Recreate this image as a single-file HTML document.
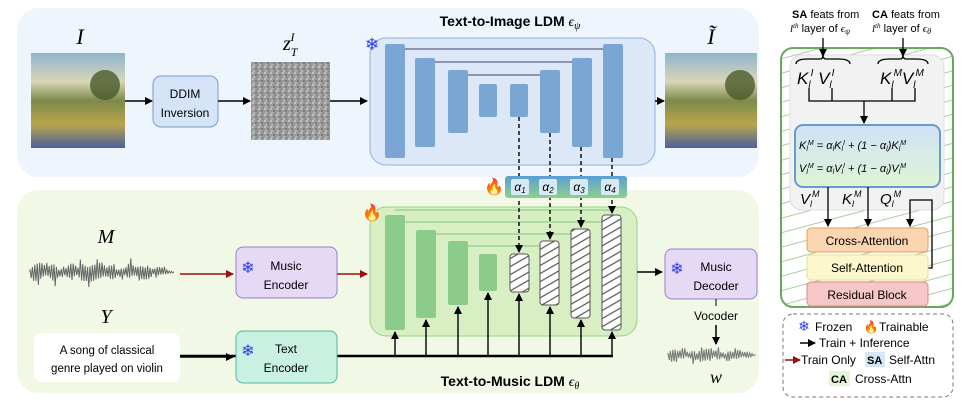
<!DOCTYPE html>
<html><head><meta charset="utf-8"><style>
html,body{margin:0;padding:0;background:#fff;width:969px;height:401px;overflow:hidden}
svg{display:block}
text{font-family:"Comic Sans MS","Liberation Sans",sans-serif}
.m{font-family:"Liberation Serif",serif;font-style:italic}
</style></head><body>
<svg width="969" height="401" viewBox="0 0 969 401" xmlns="http://www.w3.org/2000/svg">
<defs>
<marker id="ah" markerWidth="8" markerHeight="8" refX="7" refY="4" orient="auto" markerUnits="userSpaceOnUse"><path d="M0,0 L8,4 L0,8z" fill="#000"/></marker>
<marker id="ahr" markerWidth="8" markerHeight="8" refX="7" refY="4" orient="auto" markerUnits="userSpaceOnUse"><path d="M0,0 L8,4 L0,8z" fill="#9b1010"/></marker>
<pattern id="hatch" width="7" height="7" patternUnits="userSpaceOnUse" patternTransform="rotate(-30)"><rect width="7" height="7" fill="#fff"/><line x1="0" y1="3" x2="7" y2="3" stroke="#555" stroke-width="1.2"/></pattern>
<pattern id="hatch2" width="14" height="14" patternUnits="userSpaceOnUse" patternTransform="rotate(-15)"><rect width="14" height="14" fill="#fff"/><line x1="0" y1="7" x2="14" y2="7" stroke="#a9cfa0" stroke-width="1"/></pattern>
<linearGradient id="alg" x1="0" y1="0" x2="0" y2="1"><stop offset="0" stop-color="#5a9fd6"/><stop offset="1" stop-color="#8fcf8a"/></linearGradient>
<linearGradient id="fg" x1="0" y1="0" x2="0" y2="1"><stop offset="0" stop-color="#cfe2f7"/><stop offset="1" stop-color="#dff5d4"/></linearGradient>
<linearGradient id="sky" x1="0" y1="0" x2="0" y2="1"><stop offset="0" stop-color="#8fb3cf"/><stop offset="0.3" stop-color="#d9d6b8"/><stop offset="0.5" stop-color="#7c8a4a"/><stop offset="0.75" stop-color="#b9a54a"/><stop offset="1" stop-color="#4c5fa0"/></linearGradient>
<pattern id="noise" width="6" height="6" patternUnits="userSpaceOnUse"><rect width="6" height="6" fill="#9a9a9a"/><rect x="0" y="0" width="2" height="2" fill="#c0c0c0"/><rect x="3" y="2" width="2" height="2" fill="#7e7e7e"/><rect x="1" y="4" width="2" height="2" fill="#b4b4b4"/><rect x="4" y="5" width="2" height="1" fill="#858585"/></pattern>
</defs>

<rect x="17" y="8" width="742" height="169" rx="22" fill="#eef5fd"/>
<rect x="17" y="190" width="742" height="203" rx="22" fill="#f1f9e6"/>

<text x="80" y="44" class="m" font-size="22" text-anchor="middle">I</text>
<rect x="31" y="53" width="94" height="95" fill="url(#sky)"/>
<circle cx="105" cy="85" r="15" fill="#4a5a2a" opacity="0.8"/>
<line x1="125" y1="101" x2="152" y2="101" stroke="#000" stroke-width="1.5" marker-end="url(#ah)"/>
<rect x="153" y="76" width="65" height="51" rx="8" fill="#d5e4f7" stroke="#7b9cc8"/>
<text x="185" y="98" font-size="12" text-anchor="middle">DDIM</text>
<text x="185" y="117" font-size="12" text-anchor="middle">Inversion</text>
<line x1="218" y1="101" x2="250" y2="101" stroke="#000" stroke-width="1.5" marker-end="url(#ah)"/>
<text x="283" y="50" class="m" font-size="20">z<tspan font-size="12" dy="6">T</tspan><tspan font-size="12" dx="-7" dy="-15">I</tspan></text>
<rect x="251" y="62" width="79" height="78" fill="url(#noise)"/>
<line x1="330" y1="101" x2="367" y2="101" stroke="#000" stroke-width="1.5" marker-end="url(#ah)"/>

<text x="510" y="26" font-size="14" font-weight="bold" text-anchor="middle">Text-to-Image LDM <tspan class="m" font-weight="normal">ϵ<tspan font-size="10" dy="3">ψ</tspan></tspan></text>
<rect x="370" y="38" width="285" height="127" rx="16" fill="#dce8f8" stroke="#8fb0dc"/>
<g stroke="#3e3e6e" stroke-width="1" fill="none">
<path d="M395,49 H613"/><path d="M425,62 H582"/><path d="M458,75 H550"/>
</g>
<g fill="#7aa6d4">
<rect x="385" y="44" width="20" height="114" rx="2"/><rect x="415" y="58" width="20" height="89" rx="2"/>
<rect x="448" y="70" width="20" height="63" rx="2"/><rect x="479" y="84" width="18" height="33" rx="2"/>
<rect x="510" y="84" width="18" height="33" rx="2"/><rect x="540" y="70" width="20" height="63" rx="2"/>
<rect x="572" y="58" width="20" height="89" rx="2"/><rect x="603" y="44" width="20" height="114" rx="2"/>
</g>
<text x="372" y="50" font-size="17" fill="#2a3ee8" text-anchor="middle">❄</text>
<line x1="655" y1="101" x2="664" y2="101" stroke="#000" stroke-width="1.5" marker-end="url(#ah)"/>
<text x="711" y="44" class="m" font-size="22" text-anchor="middle">Ĩ</text>
<rect x="665" y="53" width="92" height="95" fill="url(#sky)"/>
<circle cx="740" cy="85" r="15" fill="#4a5a2a" opacity="0.8"/>

<rect x="370" y="207" width="267" height="129" rx="16" fill="#d8efc4" stroke="#9dd08a"/>
<g stroke="#7cc47a" stroke-width="1" fill="none">
<path d="M395,210 H612"/><path d="M395,222 H612"/><path d="M426,234 H581"/><path d="M458,246 H550"/>
</g>
<g fill="#8ccc8a">
<rect x="385" y="215" width="20" height="115" rx="2"/><rect x="416" y="230" width="20" height="88" rx="2"/>
<rect x="448" y="241" width="20" height="64" rx="2"/><rect x="479" y="254" width="18" height="37" rx="2"/>
</g>
<g fill="url(#hatch)" stroke="#555">
<rect x="510" y="254" width="19" height="38" rx="3"/><rect x="540" y="241" width="19" height="64" rx="3"/>
<rect x="571" y="229" width="19" height="89" rx="3"/><rect x="602" y="215" width="19" height="115" rx="3"/>
</g>
<text x="372" y="218" font-size="16" text-anchor="middle" fill="#f08a20">🔥</text>
<g stroke="#000" stroke-width="1.4" stroke-dasharray="4,3" fill="none">
<line x1="519" y1="117" x2="519" y2="252" marker-end="url(#ah)"/>
<line x1="550" y1="133" x2="550" y2="239" marker-end="url(#ah)"/>
<line x1="581" y1="147" x2="581" y2="227" marker-end="url(#ah)"/>
<line x1="612" y1="158" x2="612" y2="213" marker-end="url(#ah)"/>
</g>

<rect x="505" y="176" width="122" height="22" rx="3" fill="url(#alg)"/>
<g font-size="12" text-anchor="middle" class="m">
<rect x="511" y="179" width="18" height="16" rx="2" fill="#d6e9f5"/><text x="520" y="191">α<tspan font-size="8" dy="2">1</tspan></text>
<rect x="539" y="179" width="18" height="16" rx="2" fill="#d6e9f5"/><text x="548" y="191">α<tspan font-size="8" dy="2">2</tspan></text>
<rect x="570" y="179" width="18" height="16" rx="2" fill="#d6e9f5"/><text x="579" y="191">α<tspan font-size="8" dy="2">3</tspan></text>
<rect x="601" y="179" width="18" height="16" rx="2" fill="#d6e9f5"/><text x="610" y="191">α<tspan font-size="8" dy="2">4</tspan></text>
</g>
<text x="494" y="192" font-size="16" text-anchor="middle" fill="#f08a20">🔥</text>

<line x1="180" y1="356" x2="613" y2="356" stroke="#000" stroke-width="2.5"/>
<g stroke="#000" stroke-width="1.4">
<line x1="395" y1="356" x2="395" y2="332" marker-end="url(#ah)"/><line x1="426" y1="356" x2="426" y2="320" marker-end="url(#ah)"/>
<line x1="458" y1="356" x2="458" y2="307" marker-end="url(#ah)"/><line x1="488" y1="356" x2="488" y2="293" marker-end="url(#ah)"/>
<line x1="519" y1="356" x2="519" y2="294" marker-end="url(#ah)"/><line x1="550" y1="356" x2="550" y2="307" marker-end="url(#ah)"/>
<line x1="581" y1="356" x2="581" y2="320" marker-end="url(#ah)"/><line x1="612" y1="356" x2="612" y2="332" marker-end="url(#ah)"/>
</g>
<text x="510" y="386" font-size="14" font-weight="bold" text-anchor="middle">Text-to-Music LDM <tspan class="m" font-weight="normal">ϵ<tspan font-size="10" dy="3">θ</tspan></tspan></text>

<text x="106" y="243" class="m" font-size="20" text-anchor="middle">M</text>
<path id="wave1" d="" stroke="#666" fill="none" stroke-width="1"/>
<line x1="180" y1="274" x2="233" y2="274" stroke="#9b1010" stroke-width="1.5" marker-end="url(#ahr)"/>
<rect x="236" y="247" width="101" height="51" rx="7" fill="#e6d9f6" stroke="#9a7fcc"/>
<text x="248" y="273" font-size="16" fill="#2a3ee8" text-anchor="middle">❄</text>
<text x="286" y="270" font-size="12" text-anchor="middle">Music</text>
<text x="286" y="289" font-size="12" text-anchor="middle">Encoder</text>
<line x1="337" y1="274" x2="367" y2="274" stroke="#9b1010" stroke-width="1.5" marker-end="url(#ahr)"/>
<text x="106" y="323" class="m" font-size="20" text-anchor="middle">Y</text>
<rect x="34" y="333" width="146" height="49" rx="8" fill="#fff"/>
<text x="107" y="354" font-size="11.5" text-anchor="middle">A song of classical</text>
<text x="107" y="372" font-size="11.5" text-anchor="middle">genre played on violin</text>
<line x1="180" y1="357" x2="233" y2="357" stroke="#000" stroke-width="1.5" marker-end="url(#ah)"/>
<rect x="236" y="331" width="101" height="52" rx="7" fill="#c9f0e0" stroke="#55b89a"/>
<text x="248" y="356" font-size="16" fill="#2a3ee8" text-anchor="middle">❄</text>
<text x="286" y="353" font-size="12" text-anchor="middle">Text</text>
<text x="286" y="372" font-size="12" text-anchor="middle">Encoder</text>

<line x1="637" y1="272" x2="662" y2="272" stroke="#000" stroke-width="1.5" marker-end="url(#ah)"/>
<rect x="665" y="249" width="92" height="50" rx="7" fill="#e6d9f6" stroke="#9a7fcc"/>
<text x="677" y="274" font-size="16" fill="#2a3ee8" text-anchor="middle">❄</text>
<text x="716" y="271" font-size="12" text-anchor="middle">Music</text>
<text x="716" y="290" font-size="12" text-anchor="middle">Decoder</text>
<line x1="716" y1="299" x2="716" y2="306" stroke="#000"/>
<text x="716" y="320" font-size="12" text-anchor="middle">Vocoder</text>
<line x1="716" y1="325" x2="716" y2="344" stroke="#000" stroke-width="1.5" marker-end="url(#ah)"/>
<path id="wave2" d="" stroke="#777" fill="none" stroke-width="1"/>
<text x="716" y="383" class="m" font-size="18" text-anchor="middle">w</text>

<text x="792" y="18" font-size="11"><tspan font-weight="bold">SA</tspan> feats from</text>
<text x="790" y="32" font-size="11"><tspan class="m">l<tspan font-size="7" dy="-4">th</tspan></tspan><tspan dy="4"> layer of </tspan><tspan class="m">ϵ<tspan font-size="8" dy="2">ψ</tspan></tspan></text>
<text x="872" y="18" font-size="11"><tspan font-weight="bold">CA</tspan> feats from</text>
<text x="872" y="32" font-size="11"><tspan class="m">l<tspan font-size="7" dy="-4">th</tspan></tspan><tspan dy="4"> layer of </tspan><tspan class="m">ϵ<tspan font-size="8" dy="2">θ</tspan></tspan></text>
<rect x="781" y="48" width="172" height="259" rx="12" fill="url(#hatch2)" stroke="#6aa860" stroke-width="2"/>
<rect x="790" y="55" width="154" height="155" rx="12" fill="#f2f2f2" stroke="#ddd"/>
<g stroke="#000" stroke-width="1.3" fill="none">
<line x1="823" y1="38" x2="823" y2="56" marker-end="url(#ah)"/><line x1="903" y1="38" x2="903" y2="56" marker-end="url(#ah)"/>
<path d="M796,64 q0,-5 12,-5 h12 q3,0 3,-4 q0,4 3,4 h12 q12,0 12,5"/>
<path d="M878,64 q0,-5 12,-5 h10 q3,0 3,-4 q0,4 3,4 h10 q12,0 12,5"/>
<path d="M809,88 V101 H915 V88 M832,88 V101 M892,88 V101"/>
<line x1="864" y1="101" x2="864" y2="123" marker-end="url(#ah)"/>
</g>
<g class="m" font-size="17">
<text x="797" y="84">K<tspan font-size="10" dy="4">l</tspan><tspan font-size="10" dy="-12">I</tspan><tspan dy="8"> V</tspan><tspan font-size="10" dy="4">l</tspan><tspan font-size="10" dy="-12">I</tspan></text>
<text x="880" y="84">K<tspan font-size="10" dy="4">l</tspan><tspan font-size="10" dy="-12">M</tspan><tspan dy="8">V</tspan><tspan font-size="10" dy="4">l</tspan><tspan font-size="10" dy="-12">M</tspan></text>
</g>
<rect x="795" y="125" width="145" height="62" rx="8" fill="url(#fg)" stroke="#6a9bd0" stroke-width="2"/>
<g class="m" font-size="11">
<text x="799" y="149">K<tspan font-size="7" dy="2">l</tspan><tspan font-size="7" dy="-6">M</tspan><tspan dy="4"> = α</tspan><tspan font-size="7" dy="2">l</tspan><tspan dy="-2">K</tspan><tspan font-size="7" dy="2">l</tspan><tspan font-size="7" dy="-6">I</tspan><tspan dy="4"> + (1 − α</tspan><tspan font-size="7" dy="2">l</tspan><tspan dy="-2">)K</tspan><tspan font-size="7" dy="2">l</tspan><tspan font-size="7" dy="-6">M</tspan></text>
<text x="799" y="172">V<tspan font-size="7" dy="2">l</tspan><tspan font-size="7" dy="-6">M</tspan><tspan dy="4"> = α</tspan><tspan font-size="7" dy="2">l</tspan><tspan dy="-2">V</tspan><tspan font-size="7" dy="2">l</tspan><tspan font-size="7" dy="-6">I</tspan><tspan dy="4"> + (1 − α</tspan><tspan font-size="7" dy="2">l</tspan><tspan dy="-2">)V</tspan><tspan font-size="7" dy="2">l</tspan><tspan font-size="7" dy="-6">M</tspan></text>
</g>
<g class="m" font-size="15">
<text x="800" y="204">V<tspan font-size="9" dy="3">l</tspan><tspan font-size="9" dy="-10">M</tspan></text>
<text x="842" y="204">K<tspan font-size="9" dy="3">l</tspan><tspan font-size="9" dy="-10">M</tspan></text>
<text x="880" y="204">Q<tspan font-size="9" dy="3">l</tspan><tspan font-size="9" dy="-10">M</tspan></text>
</g>
<g stroke="#000" stroke-width="1.3" fill="none">
<line x1="828" y1="187" x2="828" y2="226" marker-end="url(#ah)"/>
<line x1="868" y1="187" x2="868" y2="226" marker-end="url(#ah)"/>
<path d="M928,268 H932 V200 H910 V226" marker-end="url(#ah)"/>
</g>
<rect x="807" y="228" width="121" height="24" rx="4" fill="#fbd5b0" stroke="#e0a060"/>
<text x="867" y="245" font-size="12" text-anchor="middle">Cross-Attention</text>
<rect x="807" y="255" width="121" height="25" rx="4" fill="#fdf8cc" stroke="#e6df90"/>
<text x="867" y="272" font-size="12" text-anchor="middle">Self-Attention</text>
<rect x="807" y="282" width="121" height="24" rx="4" fill="#f7c6c6" stroke="#d88"/>
<text x="867" y="299" font-size="12" text-anchor="middle">Residual Block</text>

<rect x="783" y="314" width="170" height="83" rx="10" fill="#fff" stroke="#777" stroke-dasharray="4,3"/>
<text x="804" y="331" font-size="14" fill="#2a3ee8" text-anchor="middle">❄</text>
<text x="815" y="331" font-size="12">Frozen</text>
<text x="871" y="331" font-size="12" fill="#f08a20" text-anchor="middle">🔥</text>
<text x="879" y="331" font-size="12">Trainable</text>
<line x1="800" y1="343" x2="815" y2="343" stroke="#000" stroke-width="1.5" marker-end="url(#ah)"/>
<text x="819" y="347" font-size="12">Train + Inference</text>
<line x1="785" y1="360" x2="800" y2="360" stroke="#9b1010" stroke-width="1.5" marker-end="url(#ahr)"/>
<text x="801" y="364" font-size="12">Train Only</text>
<rect x="865" y="352" width="20" height="15" fill="#d6e6f7"/>
<text x="867" y="364" font-size="11" font-weight="bold">SA</text>
<text x="889" y="364" font-size="12">Self-Attn</text>
<rect x="829" y="371" width="21" height="15" fill="#e3f5d5"/>
<text x="831" y="383" font-size="11" font-weight="bold">CA</text>
<text x="855" y="383" font-size="12">Cross-Attn</text>
</svg>
<script>
function wave(id,x0,x1,cy,amp){
  var d='M'+x0+','+cy, n=Math.floor((x1-x0)/1.2);
  for(var i=0;i<n;i++){
    var x=x0+i*1.2, t=i/n;
    var env=amp*(0.35+0.65*Math.abs(Math.sin(t*11+Math.sin(t*37))))*(i%7==0?1.6:1)*(1-Math.pow(t,6));
    var s=(i%2?1:-1)*env*(0.5+0.5*Math.abs(Math.sin(i*1.7)));
    d+=' L'+x.toFixed(1)+','+(cy+s).toFixed(1);
  }
  document.getElementById(id).setAttribute('d',d);
}
wave('wave1',30,176,272,10);
wave('wave2',668,757,355,7);
</script>
</body></html>
